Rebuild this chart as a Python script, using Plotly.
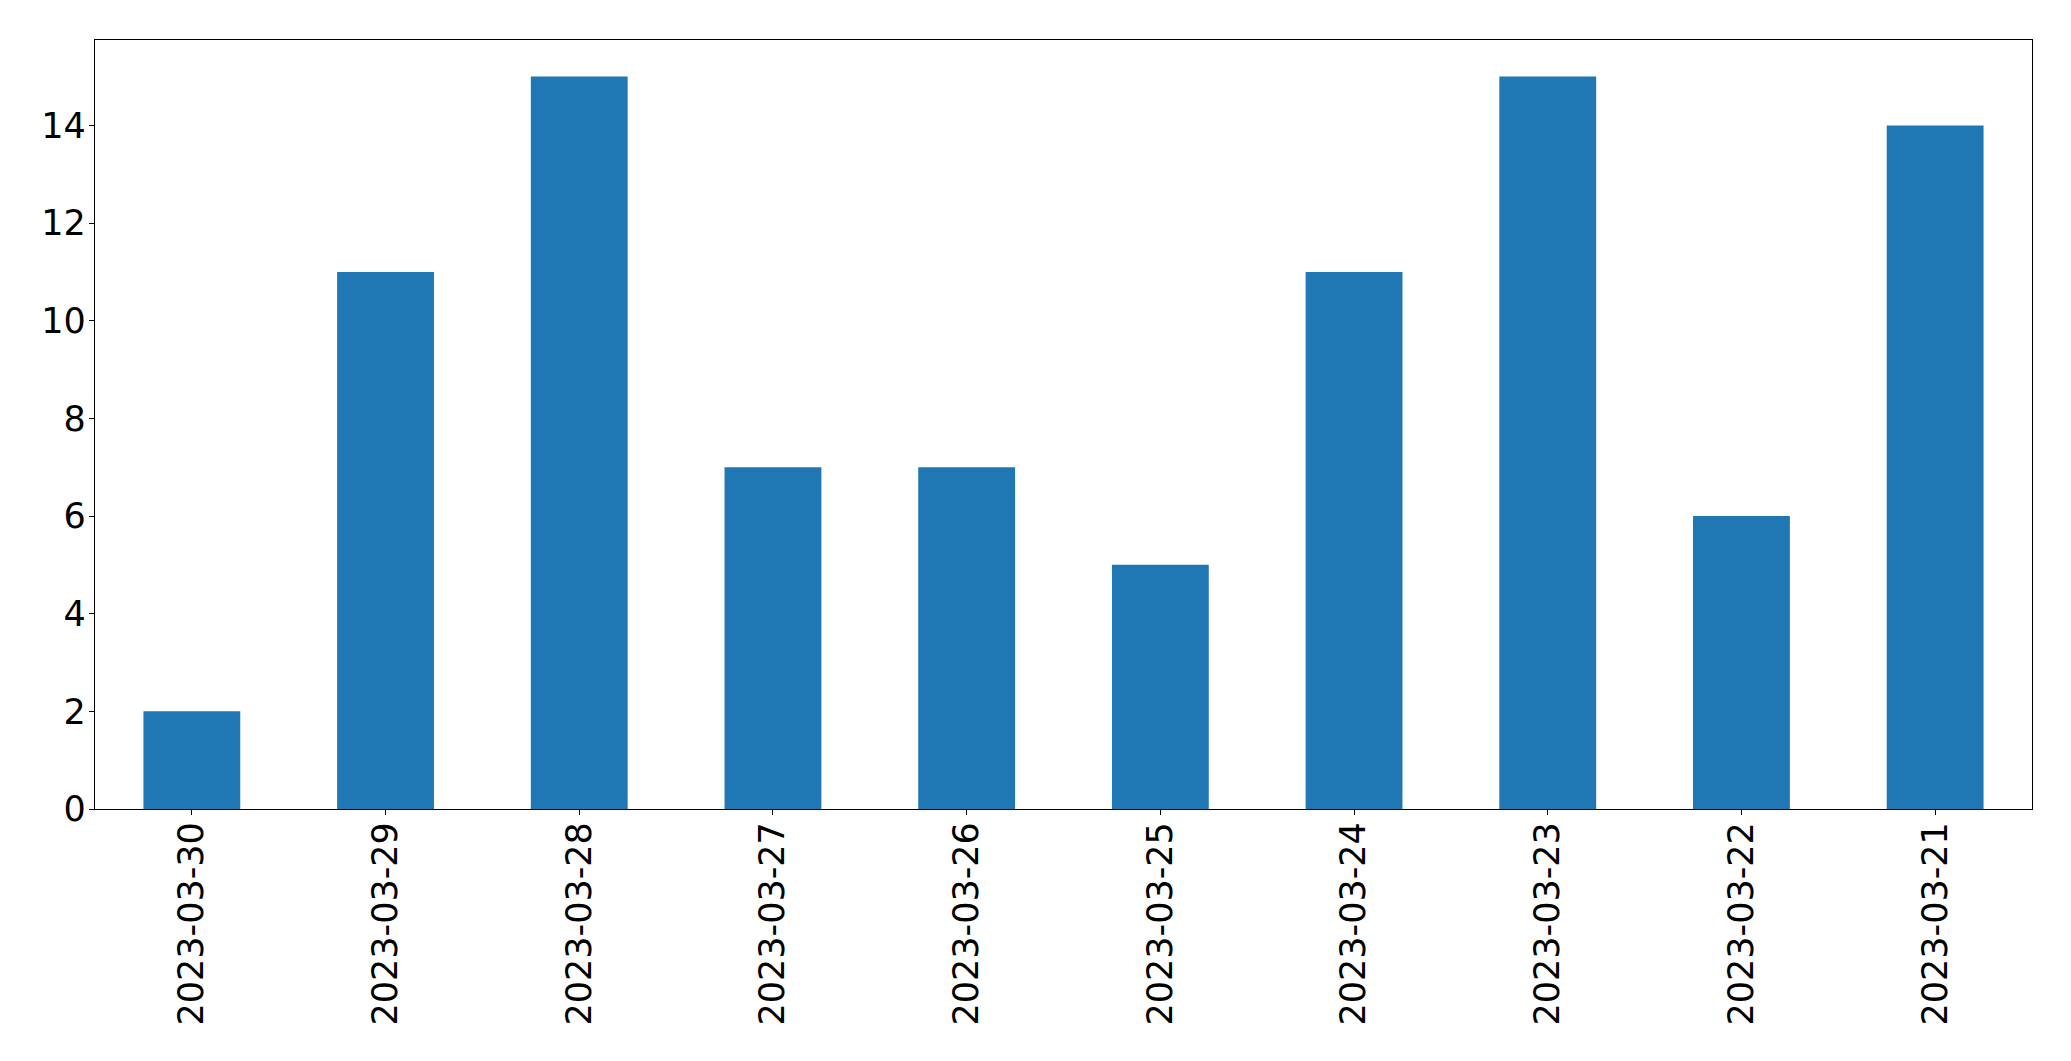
import plotly.graph_objects as go

dates = ["2023-03-30", "2023-03-29", "2023-03-28", "2023-03-27", "2023-03-26",
         "2023-03-25", "2023-03-24", "2023-03-23", "2023-03-22", "2023-03-21"]
counts = [2, 11, 15, 7, 7, 5, 11, 15, 6, 14]

fig = go.Figure(go.Bar(x=dates, y=counts, marker=dict(color="#1f77b4", line=dict(width=0)), width=0.5))

axis_common = dict(
    showline=True, linecolor="black", linewidth=1.3, mirror=True,
    ticks="outside", ticklen=5, tickwidth=1.3, tickcolor="black",
    showgrid=False, zeroline=False,
    tickfont=dict(family="DejaVu Sans", size=35, color="black"),
)

fig.update_layout(
    width=2063, height=1053,
    margin=dict(l=87, r=39, t=32, b=252, autoexpand=False),
    paper_bgcolor="white", plot_bgcolor="white",
    showlegend=False,
    xaxis=dict(type="category", range=[-0.5, 9.5], tickangle=-90, ticklabelstandoff=-7, **axis_common),
    yaxis=dict(range=[0, 15.75], tickvals=[0, 2, 4, 6, 8, 10, 12, 14], ticklabelstandoff=-4, **axis_common),
)

fig.write_html("out.html")
